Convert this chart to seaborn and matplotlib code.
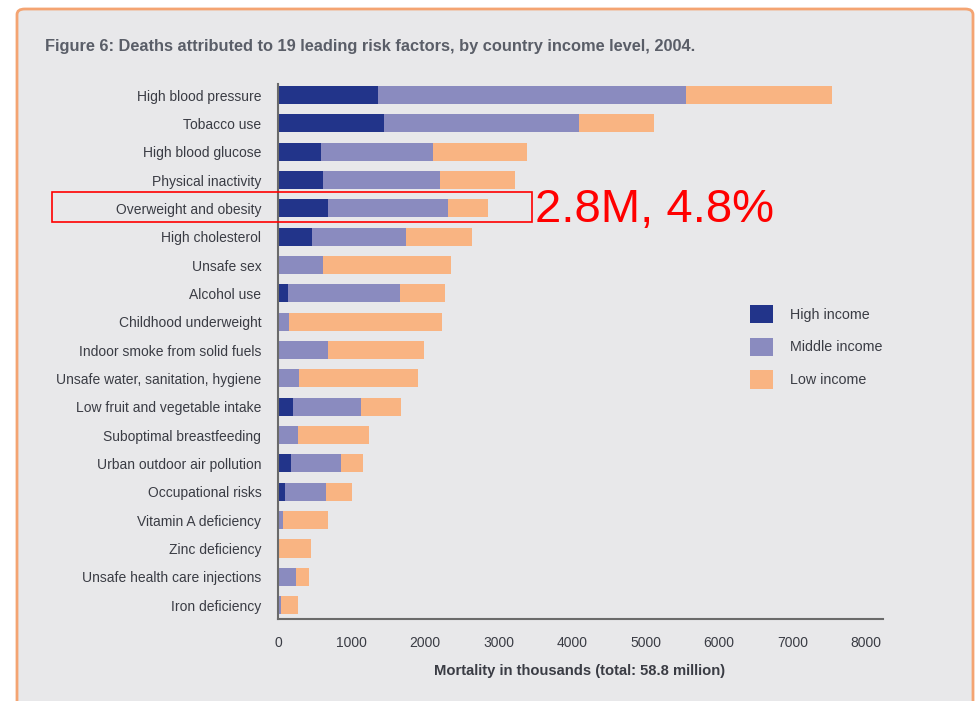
import matplotlib
matplotlib.use("Agg")
import matplotlib.pyplot as plt
from matplotlib.patches import FancyBboxPatch, Rectangle, Patch
import seaborn as sns
import pandas as pd

# Deaths (thousands) by risk factor and country income group, 2004
risk_factors = [
    "High blood pressure", "Tobacco use", "High blood glucose",
    "Physical inactivity", "Overweight and obesity", "High cholesterol",
    "Unsafe sex", "Alcohol use", "Childhood underweight",
    "Indoor smoke from solid fuels", "Unsafe water, sanitation, hygiene",
    "Low fruit and vegetable intake", "Suboptimal breastfeeding",
    "Urban outdoor air pollution", "Occupational risks",
    "Vitamin A deficiency", "Zinc deficiency",
    "Unsafe health care injections", "Iron deficiency",
]
high_income = [1360, 1440, 585, 612, 680, 463, 10, 136, 5, 5, 5, 204, 5, 177, 95, 2, 2, 2, 5]
middle_income = [4190, 2655, 1525, 1592, 1633, 1279, 602, 1524, 145, 675, 281, 925, 267, 680, 558, 66, 15, 243, 35]
low_income = [1990, 1020, 1280, 1021, 544, 898, 1742, 612, 2081, 1306, 1619, 544, 966, 299, 354, 612, 434, 177, 232]

x_ticks = [0, 1000, 2000, 3000, 4000, 5000, 6000, 7000, 8000]
series_labels = ["High income", "Middle income", "Low income"]
title_text = "Figure 6: Deaths attributed to 19 leading risk factors, by country income level, 2004."
x_label = "Mortality in thousands (total: 58.8 million)"
callout_text = "2.8M, 4.8%"

C_HIGH = "#22348a"
C_MID = "#8a8bbf"
C_LOW = "#f9b482"
BG = "#e8e8ea"
TXT = "#3a3c44"

sns.set_theme(style="white")
plt.rcParams["font.family"] = ["Liberation Sans", "DejaVu Sans"]

df = pd.DataFrame({
    "factor": risk_factors,
    "high": high_income,
    "middle": middle_income,
    "low": low_income,
})
df["to_middle"] = df["high"] + df["middle"]
df["to_low"] = df["to_middle"] + df["low"]

W, H = 976, 701
fig = plt.figure(figsize=(W / 100, H / 100), dpi=100)
fig.patch.set_facecolor("white")

# Panel background with orange frame
panel = FancyBboxPatch((17 / W, -0.05), (973 - 17) / W, (701 - 9) / H + 0.05,
                       boxstyle="round,pad=0,rounding_size=0.008",
                       transform=fig.transFigure, facecolor=BG,
                       edgecolor="#f4a472", linewidth=2.0, zorder=-10)
fig.patches.append(panel)

ax_left, ax_right, ax_top, ax_bottom = 278, 883, 84, 619
ax = fig.add_axes([ax_left / W, 1 - ax_bottom / H,
                   (ax_right - ax_left) / W, (ax_bottom - ax_top) / H])
ax.set_facecolor("none")

# Stacked bars: draw cumulative totals from widest to narrowest
for col, color in [("to_low", C_LOW), ("to_middle", C_MID), ("high", C_HIGH)]:
    sns.barplot(data=df, x=col, y="factor", orient="h", color=color,
                saturation=1, width=0.64, linewidth=0, ax=ax)

ax.set_xlim(0, 8230)
ax.set_ylim(len(risk_factors) - 1 + 0.49, -0.39)
ax.set_xticks(x_ticks)
ax.set_xticklabels([str(t) for t in x_ticks], fontsize=10, color=TXT)
ax.tick_params(axis="x", length=0, pad=12)
ax.tick_params(axis="y", length=0, pad=12, labelsize=10, labelcolor=TXT)
ax.set_ylabel("")
ax.set_xlabel(x_label, fontsize=10.6, fontweight="bold", color=TXT)
ax.xaxis.set_label_coords(0.499, -0.084)

for side in ["top", "right"]:
    ax.spines[side].set_visible(False)
for side in ["left", "bottom"]:
    ax.spines[side].set_color("#6a6a6a")
    ax.spines[side].set_linewidth(1.5)

# Title
fig.text(45 / W, 1 - 46 / H, title_text, fontsize=11.8, fontweight="bold",
         color="#5a5e68", ha="left", va="center")

# Legend
handles = [Patch(facecolor=c, edgecolor="none") for c in (C_HIGH, C_MID, C_LOW)]
fig.legend(handles, series_labels, loc="upper left",
           bbox_to_anchor=(737 / W, 1 - 292 / H), frameon=False,
           fontsize=10.3, handlelength=1.6, handleheight=1.6,
           labelspacing=1.0, handletextpad=1.2, labelcolor=TXT)

# Callout around the highlighted row
fig.patches.append(Rectangle((52 / W, 1 - 222 / H), (532 - 52) / W, 30 / H,
                             transform=fig.transFigure, fill=False,
                             edgecolor="red", linewidth=1.2, zorder=5))
fig.text(535 / W, 1 - 222 / H, callout_text, fontsize=34, color="red",
         ha="left", va="baseline")

fig.savefig("out.png", dpi=100, facecolor=fig.get_facecolor())
